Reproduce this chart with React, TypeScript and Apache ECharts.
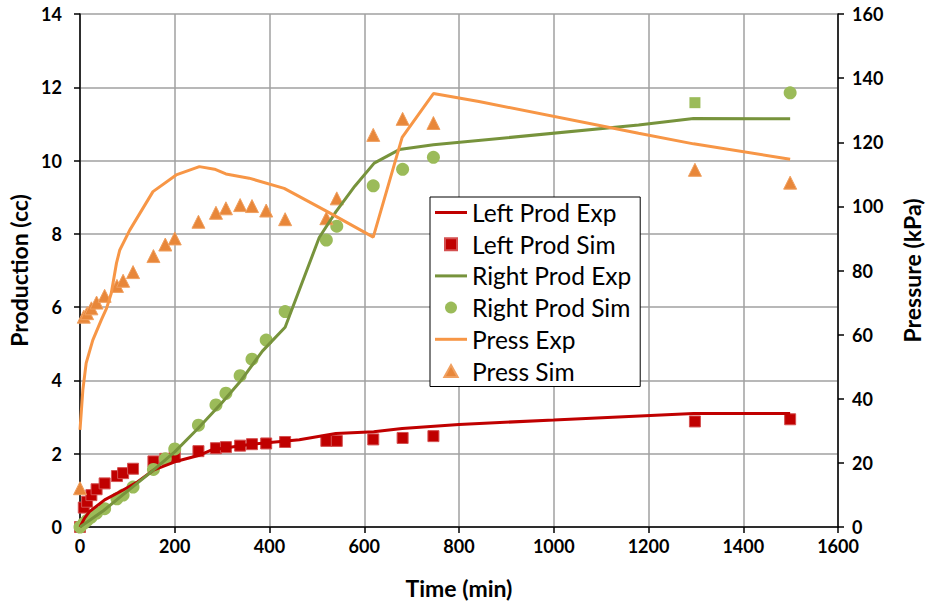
import React, { useEffect, useRef } from "react";
import * as echarts from "echarts";

// Simulation sample times (min)
const simTimes = [0, 8, 15, 24, 35, 52, 78, 91, 112, 155, 180, 200, 250, 287, 308, 338, 363, 393, 433, 520, 542, 619, 681, 746, 1298, 1499];
const leftSim = [0, 0.53, 0.69, 0.87, 1.03, 1.19, 1.39, 1.47, 1.59, 1.79, 1.86, 1.92, 2.07, 2.15, 2.18, 2.22, 2.26, 2.28, 2.32, 2.35, 2.35, 2.39, 2.43, 2.48, 2.88, 2.94];
const rightSim = [0, 0.1, 0.18, 0.27, 0.38, 0.5, 0.77, 0.87, 1.09, 1.57, 1.86, 2.13, 2.78, 3.33, 3.65, 4.13, 4.58, 5.1, 5.88, 7.83, 8.21, 9.31, 9.76, 10.09, 11.58, 11.85];
const pressSim = [12.1, 65.6, 66.7, 68.2, 70.0, 72.1, 75.2, 76.8, 79.5, 84.5, 88.1, 90.0, 95.2, 98.0, 99.4, 100.4, 100.1, 98.7, 96.0, 96.3, 102.5, 122.3, 127.3, 126.0, 111.4, 107.4];
// index of the sim point drawn as a square in the reference
const rightSimSquareIndex = 24;

// Experimental curves
const leftExpT = [0, 10, 20, 52, 91, 119, 155, 200, 250, 277, 350, 435, 463, 540, 620, 680, 800, 1000, 1295, 1499];
const leftExpV = [0, 0.25, 0.42, 0.74, 1.01, 1.21, 1.55, 1.78, 1.95, 2.1, 2.24, 2.35, 2.38, 2.55, 2.6, 2.69, 2.8, 2.92, 3.1, 3.1];
const rightExpT = [0, 50, 100, 150, 200, 250, 300, 340, 385, 433, 505, 540, 580, 621, 674, 746, 1179, 1295, 1499];
const rightExpV = [0, 0.45, 0.98, 1.5, 2.05, 2.7, 3.4, 4.0, 4.8, 5.45, 7.9, 8.6, 9.3, 9.93, 10.3, 10.43, 10.97, 11.15, 11.14];
const pressExpT = [0, 6, 13, 27, 45, 56, 66, 77, 84, 105, 154, 203, 252, 284, 308, 357, 431, 523, 619, 680, 746, 842, 1179, 1295, 1499];
const pressExpV = [30.3, 42.7, 51.1, 58.3, 64.6, 68.2, 72.9, 82.3, 86.4, 92.6, 104.6, 109.8, 112.4, 111.6, 110.1, 108.8, 105.6, 98.3, 90.4, 121.5, 135.2, 132.7, 122.8, 119.5, 114.7];

const FONT = "Lato";
const RED = "#C00000";
const GREEN_LINE = "#77933C";
const GREEN_DOT = "#9BBB59";
const ORANGE_LINE = "#F79646";
const ORANGE_TRI = "#E8873A";

const pair = (t: number[], v: number[]) => t.map((x, i) => [x, v[i]]);

export default function App() {
  const ref = useRef<HTMLDivElement>(null);
  useEffect(() => {
    if (!ref.current) return;
    const chart = echarts.init(ref.current, null, { renderer: "svg" });
    const axisLabel = {
      fontFamily: FONT,
      fontWeight: "bold",
      fontSize: 18,
      color: "#000",
      formatter: (v: number) => String(v),
    };
    const nameStyle = { fontFamily: FONT, fontWeight: "bold", fontSize: 23, color: "#000" };
    const squarePath = "path://M0,0L10,0L10,10L0,10Z";
    const triPath = "path://M5,0L10,9L0,9Z";
    const linePath = "path://M0,0L32,0L32,3L0,3Z";
    chart.setOption({
      animation: false,
      backgroundColor: "#fff",
      grid: { left: 80, right: 92, top: 14, bottom: 80, containLabel: false, outerBoundsMode: "none" },
      legend: {
        orient: "vertical",
        left: 430,
        top: 197,
        backgroundColor: "#fff",
        borderColor: "#000",
        borderWidth: 1,
        borderRadius: 0,
        padding: [3, 9, 3, 5],
        itemWidth: 32,
        itemHeight: 12,
        itemGap: 6.7,
        textStyle: { fontFamily: FONT, fontSize: 24.5, color: "#000", lineHeight: 24 },
        data: [
          { name: "Left Prod Exp", icon: linePath },
          { name: "Left Prod Sim", icon: squarePath },
          { name: "Right Prod Exp", icon: linePath },
          { name: "Right Prod Sim", icon: "circle" },
          { name: "Press Exp", icon: linePath },
          { name: "Press Sim", icon: triPath },
        ],
      },
      xAxis: {
        type: "value",
        min: 0,
        max: 1600,
        interval: 200,
        name: "Time (min)",
        nameLocation: "middle",
        nameGap: 49,
        nameTextStyle: nameStyle,
        axisLine: { show: true, onZero: false, lineStyle: { color: "#000", width: 1.5 } },
        axisTick: { show: true, inside: false, length: 6, lineStyle: { color: "#000", width: 1.5 } },
        axisLabel: { ...axisLabel, margin: 10 },
        splitLine: { show: true, lineStyle: { color: "#A0A0A0", width: 1.5 } },
      },
      yAxis: [
        {
          type: "value",
          min: 0,
          max: 14,
          interval: 2,
          position: "left",
          name: "Production (cc)",
          nameLocation: "middle",
          nameGap: 50,
          nameTextStyle: nameStyle,
          axisLine: { show: true, onZero: false, lineStyle: { color: "#000", width: 1.5 } },
          axisTick: { show: true, inside: false, length: 6, lineStyle: { color: "#000", width: 1.5 } },
          axisLabel: { ...axisLabel, margin: 18 },
          splitLine: { show: true, lineStyle: { color: "#A0A0A0", width: 1.5 } },
        },
        {
          type: "value",
          min: 0,
          max: 160,
          interval: 20,
          position: "right",
          name: "Pressure (kPa)",
          nameLocation: "middle",
          nameGap: 62,
          nameTextStyle: nameStyle,
          axisLine: { show: true, onZero: false, lineStyle: { color: "#000", width: 1.5 } },
          axisTick: { show: true, inside: false, length: 6, lineStyle: { color: "#000", width: 1.5 } },
          axisLabel: { ...axisLabel, margin: 14 },
          splitLine: { show: false },
        },
      ],
      series: [
        {
          name: "Left Prod Exp",
          type: "line",
          yAxisIndex: 0,
          symbol: "none",
          data: pair(leftExpT, leftExpV),
          lineStyle: { color: RED, width: 3 },
          itemStyle: { color: RED },
        },
        {
          name: "Left Prod Sim",
          type: "scatter",
          yAxisIndex: 0,
          symbol: "rect",
          symbolSize: 11,
          data: pair(simTimes, leftSim),
          itemStyle: { color: RED, borderColor: "#D45050", borderWidth: 1, opacity: 1 },
        },
        {
          name: "Right Prod Exp",
          type: "line",
          yAxisIndex: 0,
          symbol: "none",
          data: pair(rightExpT, rightExpV),
          lineStyle: { color: GREEN_LINE, width: 3 },
          itemStyle: { color: GREEN_LINE },
        },
        {
          name: "Right Prod Sim",
          type: "scatter",
          yAxisIndex: 0,
          symbol: "circle",
          symbolSize: 13,
          data: simTimes.map((t, i) =>
            i === rightSimSquareIndex
              ? { value: [t, rightSim[i]], symbol: "rect", symbolSize: 11 }
              : [t, rightSim[i]]
          ),
          itemStyle: { color: GREEN_DOT, opacity: 1 },
        },
        {
          name: "Press Exp",
          type: "line",
          yAxisIndex: 1,
          symbol: "none",
          data: pair(pressExpT, pressExpV),
          lineStyle: { color: ORANGE_LINE, width: 3 },
          itemStyle: { color: ORANGE_LINE },
        },
        {
          name: "Press Sim",
          type: "scatter",
          yAxisIndex: 1,
          symbol: "triangle",
          symbolSize: 13,
          data: pair(simTimes, pressSim),
          itemStyle: { color: ORANGE_TRI, borderColor: "#F0A060", borderWidth: 1, opacity: 1 },
        },
      ],
    });
    return () => chart.dispose();
  }, []);
  return <div ref={ref} style={{ width: 930, height: 607, position: "absolute", left: 0, top: 0 }} />;
}
